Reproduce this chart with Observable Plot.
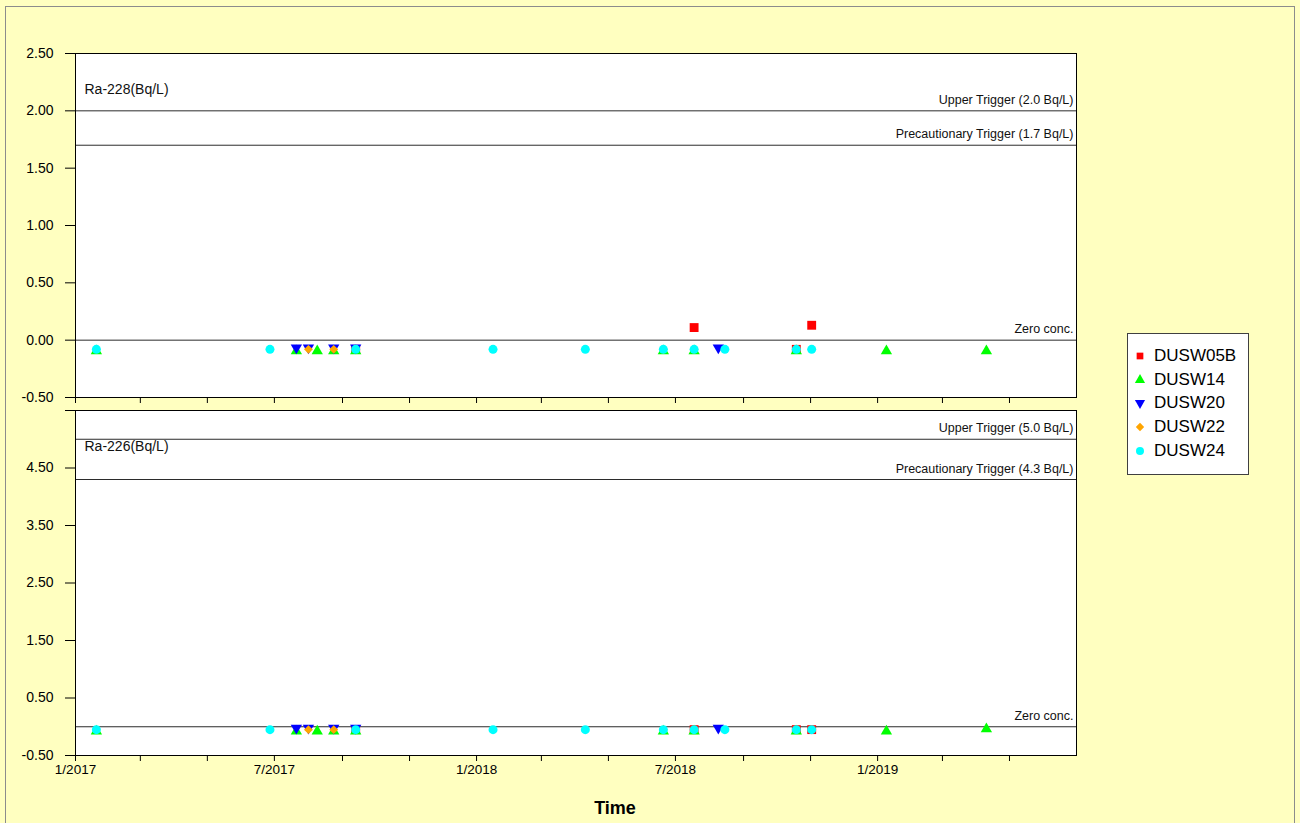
<!DOCTYPE html>
<html>
<head>
<meta charset="utf-8">
<script src="https://cdn.jsdelivr.net/npm/d3@7"></script>
<script src="https://cdn.jsdelivr.net/npm/@observablehq/plot@0.6"></script>
<style>
  html, body { margin: 0; padding: 0; background: #ffffc0; }
  #wrap { position: relative; width: 1300px; height: 823px; overflow: hidden; background: #ffffc0;
          font-family: "Liberation Sans", Arial, sans-serif; }
  #border { position: absolute; left: 5px; top: 6px; width: 1290px; height: 840px; border: 1px solid #8c8c8c; box-sizing: border-box; }
  .panel { position: absolute; left: 0; }
  #timeLabel { position: absolute; left: 565px; width: 100px; top: 797px; text-align: center;
               font-size: 18px; font-weight: bold; color: #000; line-height: 22px; }
  #legend { position: absolute; left: 1127px; top: 333px; width: 122px; height: 142px; background: #fff;
            border: 1px solid #404040; box-sizing: border-box; }
  .lrow { position: absolute; left: 0; height: 22px; width: 120px; }
  .lrow svg { position: absolute; left: 4px; top: 0; }
  .lrow span { position: absolute; left: 26px; top: 1px; font-size: 17px; line-height: 20px; color: #000; }
</style>
</head>
<body>
<div id="wrap">
  <div id="border"></div>
  <div id="top" class="panel" style="top:0px"></div>
  <div id="bottom" class="panel" style="top:404px"></div>
  <div id="timeLabel">Time</div>
  <div id="legend"></div>
</div>
<script>
// ---------------- DATA ----------------
const stations = ["DUSW05B", "DUSW14", "DUSW20", "DUSW22", "DUSW24"];
const stationColors = ["#ff0000", "#00ff00", "#0000ff", "#ffa500", "#00ffff"];

const sampleDates = [
  "2017-01-20", "2017-06-27", "2017-07-21", "2017-08-01", "2017-08-09", "2017-08-24",
  "2017-09-13", "2018-01-16", "2018-04-10", "2018-06-20", "2018-07-18", "2018-08-09",
  "2018-08-15", "2018-10-19", "2018-11-02", "2019-01-09", "2019-04-10"
];

// Ra-228 (Bq/L), one entry per sample date (null = not sampled)
const ra228_DUSW05B = [null, null, null, null, null, null, -0.08, null, null, null, 0.11, null, null, -0.08, 0.13, null, null];
const ra228_DUSW14  = [-0.08, null, -0.08, null, -0.08, -0.08, -0.08, null, null, -0.08, -0.08, null, null, -0.08, null, -0.08, -0.08];
const ra228_DUSW20  = [null, null, -0.08, -0.08, null, -0.08, -0.08, null, null, null, null, -0.08, null, null, null, null, null];
const ra228_DUSW22  = [null, null, null, -0.08, null, -0.08, null, null, null, -0.08, -0.08, null, null, null, null, null, null];
const ra228_DUSW24  = [-0.08, -0.08, null, null, null, null, -0.08, -0.08, -0.08, -0.08, -0.08, null, -0.08, -0.08, -0.08, null, null];

// Ra-226 (Bq/L)
const ra226_DUSW05B = [null, null, null, null, null, null, -0.05, null, null, null, -0.05, null, null, -0.05, -0.05, null, null];
const ra226_DUSW14  = [-0.05, null, -0.05, null, -0.05, -0.05, -0.05, null, null, -0.05, -0.05, null, null, -0.05, null, -0.05, -0.01];
const ra226_DUSW20  = [null, null, -0.05, -0.05, null, -0.05, -0.05, null, null, null, null, -0.05, null, null, null, null, null];
const ra226_DUSW22  = [null, null, null, -0.05, null, -0.05, null, null, null, -0.05, -0.05, null, null, null, null, null, null];
const ra226_DUSW24  = [-0.05, -0.05, null, null, null, null, -0.05, -0.05, -0.05, -0.05, -0.05, null, -0.05, -0.05, -0.05, null, null];

// Trigger lines
const ra228Triggers = [2.0, 1.7, 0];
const ra228TriggerLabels = ["Upper Trigger (2.0 Bq/L)", "Precautionary Trigger (1.7 Bq/L)", "Zero conc."];
const ra226Triggers = [5.0, 4.3, 0];
const ra226TriggerLabels = ["Upper Trigger (5.0 Bq/L)", "Precautionary Trigger (4.3 Bq/L)", "Zero conc."];

// Axis ticks
const ra228YTicks = [-0.5, 0, 0.5, 1.0, 1.5, 2.0, 2.5];
const ra226YTicks = [-0.5, 0.5, 1.5, 2.5, 3.5, 4.5, 5.5];
const ra226YTickLabels = ["-0.50", "0.50", "1.50", "2.50", "3.50", "4.50", ""];
const xStart = "2017-01-01";
const xEnd = "2019-07-01";

// ---------------- CHART ----------------
const parse = d3.utcParse("%Y-%m-%d");
const xDomain = [parse(xStart), parse(xEnd)];
const xTicks = d3.utcMonth.every(2).range(xDomain[0], xDomain[1]);

const symbols = ["square", "triangle", "triangle", "diamond2", "circle"];
const rotations = [0, 0, 180, 0, 0];
const radii = [5, 4.2, 4.2, 4.0, 4.5];
const symbolDy = [0, 1.6, -1.6, 0, 0];

function rows(values) {
  return sampleDates.map((d, i) => ({date: parse(d), value: values[i]})).filter(r => r.value != null);
}

function makePanel({series, yDomain, yTicks, yTickFormat, triggers, triggerLabels, title,
                    marginTop, marginBottom, height, xLabels}) {
  const trig = triggers.map((v, i) => ({y: v, label: triggerLabels[i]}));
  const marks = [
    Plot.frame({fill: "white", stroke: null}),
    Plot.ruleY(trig, {y: "y", stroke: "#2b2b2b", strokeWidth: 1}),
    Plot.text(trig, {x: () => xDomain[1], y: "y", text: "label", textAnchor: "end", lineAnchor: "bottom",
                     dx: -3, dy: -7, fontSize: 12.5, fill: "#111"}),
    Plot.text([title], {frameAnchor: "top-left", text: d => d, textAnchor: "start", lineAnchor: "bottom",
                        dx: 9, dy: 40, fontSize: 14, fill: "#111"})
  ];
  series.forEach((vals, k) => {
    marks.push(Plot.dot(rows(vals), {
      x: "date", y: "value", symbol: () => symbols[k], r: radii[k], rotate: rotations[k],
      dy: symbolDy[k], fill: stationColors[k], stroke: "none"
    }));
  });
  marks.push(Plot.frame({stroke: "#000", strokeWidth: 1}));
  marks.push(Plot.axisY({ticks: yTicks, tickSize: 10, tickPadding: 12, tickFormat: yTickFormat,
                         label: null, fontSize: 14}));
  marks.push(Plot.axisX({ticks: xTicks, tickSize: 6, tickPadding: 3, label: null, fontSize: 13.5,
    tickFormat: xLabels ? (d => d.getUTCMonth() % 6 === 0 ? `${d.getUTCMonth() + 1}/${d.getUTCFullYear()}` : "") : (() => "")}));
  return Plot.plot({
    width: 1090, height, marginLeft: 75, marginRight: 14, marginTop, marginBottom,
    x: {type: "utc", domain: xDomain},
    y: {domain: yDomain},
    symbol: {type: "identity"},
    style: {background: "transparent", fontFamily: "'Liberation Sans', Arial, sans-serif", fontSize: "14px", color: "#000", overflow: "visible"},
    marks
  });
}

document.getElementById("top").appendChild(makePanel({
  series: [ra228_DUSW05B, ra228_DUSW14, ra228_DUSW20, ra228_DUSW22, ra228_DUSW24],
  yDomain: [-0.5, 2.5], yTicks: ra228YTicks, yTickFormat: d => d.toFixed(2),
  triggers: ra228Triggers, triggerLabels: ra228TriggerLabels, title: "Ra-228(Bq/L)",
  marginTop: 53, marginBottom: 13, height: 410, xLabels: false
}));

document.getElementById("bottom").appendChild(makePanel({
  series: [ra226_DUSW05B, ra226_DUSW14, ra226_DUSW20, ra226_DUSW22, ra226_DUSW24],
  yDomain: [-0.5, 5.5], yTicks: ra226YTicks, yTickFormat: (d, i) => ra226YTickLabels[ra226YTicks.indexOf(d)],
  triggers: ra226Triggers, triggerLabels: ra226TriggerLabels, title: "Ra-226(Bq/L)",
  marginTop: 6, marginBottom: 35, height: 386, xLabels: true
}));

// ---------------- LEGEND ----------------
const legend = d3.select("#legend");
const legendSym = [d3.symbolSquare, d3.symbolTriangle, d3.symbolTriangle, d3.symbolDiamond2, d3.symbolCircle];
stations.forEach((name, k) => {
  const row = legend.append("div").attr("class", "lrow").style("top", (11 + k * 23.7) + "px");
  const svg = row.append("svg").attr("width", 16).attr("height", 22);
  svg.append("path")
    .attr("d", d3.symbol(legendSym[k], k === 4 ? 50 : 45)())
    .attr("transform", `translate(8,11) rotate(${rotations[k]})`)
    .attr("fill", stationColors[k]);
  row.append("span").text(name);
});
</script>
</body>
</html>
